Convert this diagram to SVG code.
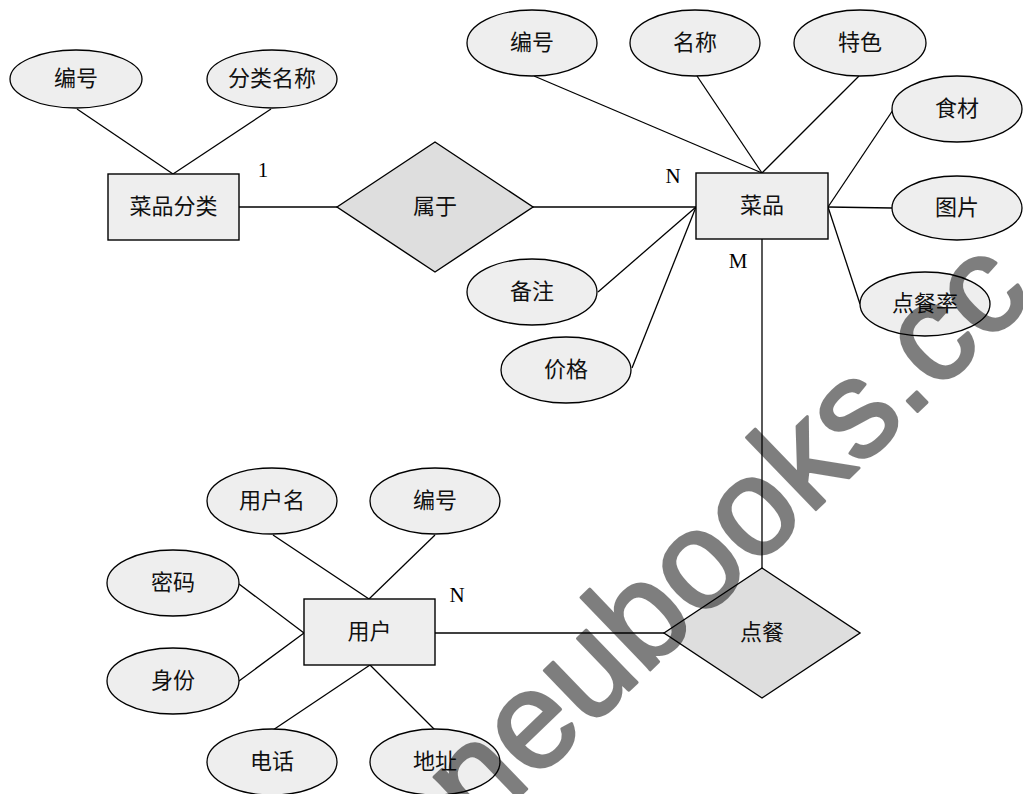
<svg xmlns="http://www.w3.org/2000/svg" width="1023" height="794" viewBox="0 0 1023 794">
  <style>
    .ent { fill: #eeeeee; stroke: #000; stroke-width: 1.4; }
    .rel { fill: #dedede; stroke: #000; stroke-width: 1.4; }
    .att { fill: #eeeeee; stroke: #000; stroke-width: 1.3; }
    .lbl { font-family: "Noto Sans CJK SC", "Noto Sans CJK JP", sans-serif; font-size: 22px; fill: #111; text-anchor: middle; dominant-baseline: central; }
    .card { font-family: "Liberation Serif", serif; font-size: 21px; fill: #000; text-anchor: middle; }
    .edge { stroke: #000; stroke-width: 1.3; fill: none; }
    .mark { font-family: "Liberation Sans", Arial, sans-serif; font-size: 138px; fill: #000; stroke: #000; stroke-width: 3; stroke-linejoin: round; }
  </style>
  <rect width="1023" height="794" fill="#ffffff"/>

  <!-- connectors -->
  <g id="connectors" class="edge">
    <line x1="77" y1="109" x2="173" y2="174"/>
    <line x1="271" y1="109" x2="173" y2="174"/>
    <line x1="239" y1="207" x2="337" y2="207"/>
    <line x1="533" y1="207" x2="696" y2="207"/>
    <line x1="534" y1="76" x2="762" y2="173"/>
    <line x1="697" y1="76" x2="762" y2="173"/>
    <line x1="859" y1="76" x2="762" y2="173"/>
    <line x1="893" y1="110" x2="828" y2="207"/>
    <line x1="828" y1="207" x2="892" y2="208"/>
    <line x1="828" y1="207" x2="860" y2="304"/>
    <line x1="598" y1="292" x2="696" y2="207"/>
    <line x1="632" y1="368" x2="696" y2="207"/>
    <line x1="762" y1="239" x2="762" y2="568"/>
    <line x1="273" y1="535" x2="369" y2="599"/>
    <line x1="435" y1="535" x2="369" y2="599"/>
    <line x1="239" y1="584" x2="304" y2="633"/>
    <line x1="239" y1="681" x2="304" y2="633"/>
    <line x1="370" y1="665" x2="273" y2="730"/>
    <line x1="370" y1="665" x2="435" y2="730"/>
    <line x1="435" y1="633" x2="664" y2="633"/>
  </g>

  <!-- category entity and its attributes -->
  <g id="cat-id"><ellipse class="att" cx="76" cy="79" rx="66" ry="29"/><text class="lbl" x="76" y="76">编号</text></g>
  <g id="cat-name"><ellipse class="att" cx="272" cy="79" rx="65" ry="29"/><text class="lbl" x="272" y="76">分类名称</text></g>
  <g id="category"><rect class="ent" x="108" y="174" width="131" height="66"/><text class="lbl" x="173.5" y="204">菜品分类</text></g>
  <g id="belongs"><polygon class="rel" points="337,207 435,142 533,207 435,272"/><text class="lbl" x="435" y="204">属于</text></g>

  <!-- dish entity and its attributes -->
  <g id="dish-id"><ellipse class="att" cx="532" cy="43" rx="65" ry="33"/><text class="lbl" x="532" y="40">编号</text></g>
  <g id="dish-name"><ellipse class="att" cx="695" cy="43" rx="65" ry="33"/><text class="lbl" x="695" y="40">名称</text></g>
  <g id="dish-feature"><ellipse class="att" cx="860" cy="43" rx="66" ry="33"/><text class="lbl" x="860" y="40">特色</text></g>
  <g id="dish-ingredient"><ellipse class="att" cx="957" cy="109" rx="65" ry="33"/><text class="lbl" x="957" y="106">食材</text></g>
  <g id="dish-picture"><ellipse class="att" cx="957" cy="208" rx="65" ry="32"/><text class="lbl" x="957" y="205">图片</text></g>
  <g id="dish-rate"><ellipse class="att" cx="925" cy="304" rx="65" ry="32"/><text class="lbl" x="925" y="301">点餐率</text></g>
  <g id="dish-note"><ellipse class="att" cx="532" cy="292" rx="65" ry="33"/><text class="lbl" x="532" y="289">备注</text></g>
  <g id="dish-price"><ellipse class="att" cx="566" cy="370" rx="65" ry="33"/><text class="lbl" x="566" y="367">价格</text></g>
  <g id="dish"><rect class="ent" x="696" y="173" width="132" height="66"/><text class="lbl" x="762" y="203">菜品</text></g>

  <!-- user entity and its attributes -->
  <g id="user-name"><ellipse class="att" cx="272" cy="501" rx="65" ry="33"/><text class="lbl" x="272" y="498">用户名</text></g>
  <g id="user-id"><ellipse class="att" cx="435" cy="501" rx="65" ry="33"/><text class="lbl" x="435" y="498">编号</text></g>
  <g id="user-password"><ellipse class="att" cx="173" cy="583" rx="66" ry="33"/><text class="lbl" x="173" y="580">密码</text></g>
  <g id="user-role"><ellipse class="att" cx="173" cy="681" rx="66" ry="33"/><text class="lbl" x="173" y="678">身份</text></g>
  <g id="user-phone"><ellipse class="att" cx="272" cy="762" rx="65" ry="33"/><text class="lbl" x="272" y="759">电话</text></g>
  <g id="user-address"><ellipse class="att" cx="435" cy="762" rx="65" ry="33"/><text class="lbl" x="435" y="759">地址</text></g>
  <g id="user"><rect class="ent" x="304" y="599" width="131" height="66"/><text class="lbl" x="369.5" y="629">用户</text></g>
  <g id="order"><polygon class="rel" points="664,633 762,568 860,633 762,698"/><text class="lbl" x="762" y="630">点餐</text></g>

  <!-- cardinalities -->
  <g id="cardinalities">
    <text class="card" x="263" y="177">1</text>
    <text class="card" x="673" y="183">N</text>
    <text class="card" x="738" y="268">M</text>
    <text class="card" x="457" y="602">N</text>
  </g>

  <g opacity="0.5">
    <text class="mark" transform="translate(478,836) rotate(-44)">neubooks.cc</text>
  </g>
</svg>
